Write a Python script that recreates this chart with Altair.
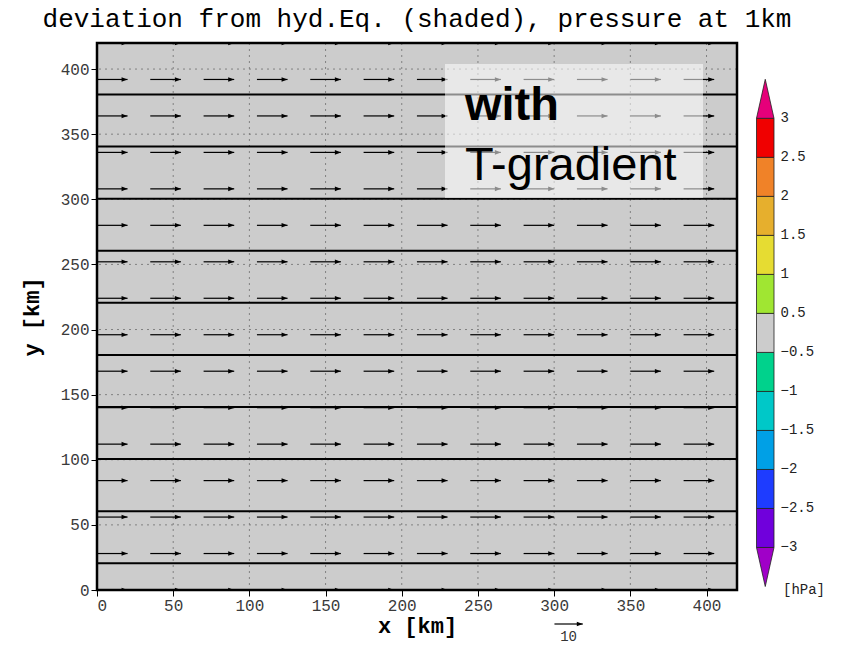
import altair as alt
import pandas as pd

# ---------------------------------------------------------------------------
# Domain and axes (km)
# ---------------------------------------------------------------------------
x_domain = [0, 420]
y_domain = [0, 420]
x_ticks = [0, 50, 100, 150, 200, 250, 300, 350, 400]
y_ticks = [0, 50, 100, 150, 200, 250, 300, 350, 400]

TITLE = "deviation from hyd.Eq. (shaded), pressure at 1km"

# Deviation from hydrostatic equilibrium [hPa] (uniform, within +-0.5 hPa)
field_x0 = [0]
field_x1 = [420]
field_y0 = [0]
field_y1 = [420]
field_dev = [0.0]

# Pressure isobars at 1 km height: y position of each contour line [km]
isobar_y = [20.5, 60.5, 100.5, 140.5, 180.5, 220.5, 260.5, 300.5, 340.5, 380.5]

# Wind vectors: grid-point centres [km] and zonal wind per row [m/s]
vec_x = [10, 45, 80, 115, 150, 185, 220, 255, 290, 325, 360, 395]
vec_y = [0, 28, 56, 84, 112, 140, 168, 196, 224, 252, 280, 308, 336, 364, 392, 420]
vec_u = [10.8, 10.8, 10.8, 10.8, 10.8, 10.8, 10.8, 10.8,
         10.8, 10.8, 10.8, 10.8, 10.8, 10.8, 10.8, 10.8]
KM_PER_MS = 1.86          # vector length scale
key_u = 10                # reference vector
key_x = 309.5             # reference vector centre [km]

# Colour bar levels [hPa] and GrADS-style colours
cbar_levels = [-3, -2.5, -2, -1.5, -1, -0.5, 0.5, 1, 1.5, 2, 2.5, 3]
cbar_colors = ["#a000c8", "#7000dc", "#1e3cff", "#00a0e6", "#00c8c8", "#00d28c",
               "#cccccc", "#a0e632", "#e6dc32", "#e6af2d", "#f08228", "#f00000",
               "#e6007a"]

FONT = "Liberation Mono"

# ---------------------------------------------------------------------------
# Tables
# ---------------------------------------------------------------------------
field_df = pd.DataFrame({"x0": field_x0, "x1": field_x1,
                         "y0": field_y0, "y1": field_y1, "dev": field_dev})
iso_df = pd.DataFrame({"y": isobar_y})
gx_df = pd.DataFrame({"x": x_ticks})
gy_df = pd.DataFrame({"y": y_ticks})

rows = []
for yy, uu in zip(vec_y, vec_u):
    for xx in vec_x:
        half = uu * KM_PER_MS / 2
        rows.append({"xc": xx, "y": yy, "u": uu, "tail": xx - half, "tip": xx + half})
vec_df = pd.DataFrame(rows)

key_df = pd.DataFrame({"u": [key_u], "xc": [key_x],
                       "tail": [key_x - key_u * KM_PER_MS / 2],
                       "tip": [key_x + key_u * KM_PER_MS / 2],
                       "label": [str(key_u)]})

frame_df = pd.DataFrame({"x0": [x_domain[0]], "x1": [x_domain[1]],
                         "y0": [y_domain[0]], "y1": [y_domain[1]]})

# colour bar: one slot per box, triangles in the outer slots
box_rows = []
for i in range(len(cbar_levels) - 1):
    box_rows.append({"s0": i + 1, "s1": i + 2, "x0": 0, "x1": 1,
                     "mid": (cbar_levels[i] + cbar_levels[i + 1]) / 2})
box_df = pd.DataFrame(box_rows)
n_slots = len(cbar_levels) + 1          # boxes + two end triangles
top_box = len(cbar_levels)              # upper edge of the last box
tri_df = pd.DataFrame([
    {"tri": "low", "s": 1, "xl": 0, "xr": 1, "mid": cbar_levels[0] - 0.5},
    {"tri": "low", "s": 0, "xl": 0.5, "xr": 0.5, "mid": cbar_levels[0] - 0.5},
    {"tri": "high", "s": top_box, "xl": 0, "xr": 1, "mid": cbar_levels[-1] + 0.5},
    {"tri": "high", "s": top_box + 1, "xl": 0.5, "xr": 0.5, "mid": cbar_levels[-1] + 0.5},
])
lab_df = pd.DataFrame({
    "s": [i + 1 for i in range(len(cbar_levels))],
    "label": [f"{v:g}".replace("-", "\u2212") for v in cbar_levels],
})

# ---------------------------------------------------------------------------
# Scales
# ---------------------------------------------------------------------------
xs = alt.Scale(domain=x_domain, nice=False, zero=False)
ys = alt.Scale(domain=y_domain, nice=False, zero=False)
cs = alt.Scale(type="threshold", domain=cbar_levels, range=cbar_colors)

x_axis = alt.Axis(values=x_ticks, grid=False, domain=False, tickSize=6,
                  tickColor="black", labelFont=FONT, labelFontSize=16,
                  labelColor="#3a3a3a", labelPadding=1, title="x [km]",
                  titleFont=FONT, titleFontSize=22, titleFontWeight="bold",
                  titleColor="black", titleX=320, titleY=35,
                  titleBaseline="middle")
y_axis = alt.Axis(values=y_ticks, grid=False, domain=False, tickSize=6,
                  tickColor="black", labelFont=FONT, labelFontSize=16,
                  labelColor="#3a3a3a", labelPadding=2, title="y [km]",
                  titleFont=FONT, titleFontSize=22, titleFontWeight="bold",
                  titleColor="black", titleX=-66, titleY=273.5, titleAngle=270,
                  titleAlign="center", titleBaseline="middle")

# ---------------------------------------------------------------------------
# Main panel
# ---------------------------------------------------------------------------
field = alt.Chart(field_df).mark_rect(strokeWidth=0).encode(
    x=alt.X("x0:Q", scale=xs, axis=x_axis),
    x2="x1:Q",
    y=alt.Y("y0:Q", scale=ys, axis=y_axis),
    y2="y1:Q",
    color=alt.Color("dev:Q", scale=cs, legend=None),
)

grid_v = alt.Chart(gx_df).mark_rule(color="#808080", strokeWidth=1,
                                    strokeDash=[2, 4]).encode(
    x=alt.X("x:Q", scale=xs))
grid_h = alt.Chart(gy_df).mark_rule(color="#808080", strokeWidth=1,
                                    strokeDash=[2, 4]).encode(
    y=alt.Y("y:Q", scale=ys))

isobars = alt.Chart(iso_df).mark_rule(color="black", strokeWidth=2).encode(
    y=alt.Y("y:Q", scale=ys))

shafts = alt.Chart(vec_df).mark_rule(color="black", strokeWidth=1.2, clip=True).encode(
    x=alt.X("tail:Q", scale=xs), x2="tip:Q", y=alt.Y("y:Q", scale=ys))

HEAD = "M 0 0 L -1 -0.38 L -1 0.38 Z"
heads = alt.Chart(vec_df).mark_point(shape=HEAD, filled=True, size=144,
                                     color="black", opacity=1, clip=True).encode(
    x=alt.X("tip:Q", scale=xs), y=alt.Y("y:Q", scale=ys))

note_df = pd.DataFrame({"line1": ["with"], "line2": ["T-gradient"]})
note_box = alt.Chart(note_df).mark_rect(color="white", opacity=0.55).encode(
    x=alt.value(348), x2=alt.value(606), y=alt.value(21), y2=alt.value(155))
note1 = alt.Chart(note_df).mark_text(font="Liberation Sans", fontSize=47,
                                     fontWeight="bold", align="left",
                                     baseline="alphabetic", color="black").encode(
    x=alt.value(368), y=alt.value(77), text="line1:N")
note2 = alt.Chart(note_df).mark_text(font="Liberation Sans", fontSize=47,
                                     align="left", baseline="alphabetic",
                                     color="black").encode(
    x=alt.value(368), y=alt.value(137), text="line2:N")

frame = alt.Chart(frame_df).mark_rect(fillOpacity=0, stroke="black",
                                      strokeWidth=2.5).encode(
    x=alt.X("x0:Q", scale=xs), x2="x1:Q", y=alt.Y("y0:Q", scale=ys), y2="y1:Q")

title_txt = alt.Chart(pd.DataFrame({"t": [TITLE]})).mark_text(
    font=FONT, fontSize=26, color="black", align="center",
    baseline="alphabetic").encode(x=alt.value(320), y=alt.value(-16), text="t:N")

key_shaft = alt.Chart(key_df).mark_rule(color="black", strokeWidth=1.2).encode(
    x=alt.X("tail:Q", scale=xs), x2="tip:Q", y=alt.value(581))
key_head = alt.Chart(key_df).mark_point(shape=HEAD, filled=True, size=144,
                                        color="black", opacity=1).encode(
    x=alt.X("tip:Q", scale=xs), y=alt.value(581))
key_text = alt.Chart(key_df).mark_text(font=FONT, fontSize=14, color="#333333",
                                       baseline="middle").encode(
    x=alt.X("xc:Q", scale=xs), y=alt.value(594), text="label:N")

main = alt.layer(field, grid_v, grid_h, isobars, shafts, heads, note_box,
                 note1, note2, frame, title_txt, key_shaft, key_head, key_text)

# ---------------------------------------------------------------------------
# Colour bar
# ---------------------------------------------------------------------------
cx = alt.Scale(domain=[0, 1], range=[659.5, 677])
cy = alt.Scale(domain=[0, n_slots], range=[543.5, 36.3])

boxes = alt.Chart(box_df).mark_rect(stroke="#222222", strokeWidth=0.8).encode(
    x=alt.X("x0:Q", scale=cx, axis=None), x2="x1:Q",
    y=alt.Y("s0:Q", scale=cy, axis=None), y2="s1:Q",
    color=alt.Color("mid:Q", scale=cs, legend=None))
tris = alt.Chart(tri_df).mark_area(orient="horizontal", stroke="#222222",
                                   strokeWidth=0.8).encode(
    y=alt.Y("s:Q", scale=cy, axis=None),
    x=alt.X("xl:Q", scale=cx, axis=None), x2="xr:Q",
    color=alt.Color("mid:Q", scale=cs, legend=None),
    detail="tri:N")
labels = alt.Chart(lab_df).mark_text(font=FONT, fontSize=14, color="#222222",
                                     align="left", baseline="middle").encode(
    x=alt.value(683.5), y=alt.Y("s:Q", scale=cy, axis=None), text="label:N")
unit = alt.Chart(pd.DataFrame({"u": ["[hPa]"]})).mark_text(
    font=FONT, fontSize=14, color="#222222", align="left",
    baseline="middle").encode(x=alt.value(686), y=alt.value(547), text="u:N")

cbar = alt.layer(boxes, tris, labels, unit)

chart = alt.layer(main, cbar).resolve_scale(x="independent", y="independent").properties(
    width=640,
    height=547,
    autosize=alt.AutoSizeParams(type="none"),
    padding={"left": 97, "top": 43, "right": 107, "bottom": 56},
).configure_view(stroke=None)

chart.save("out.html", embed_options={"renderer": "svg", "actions": False})
